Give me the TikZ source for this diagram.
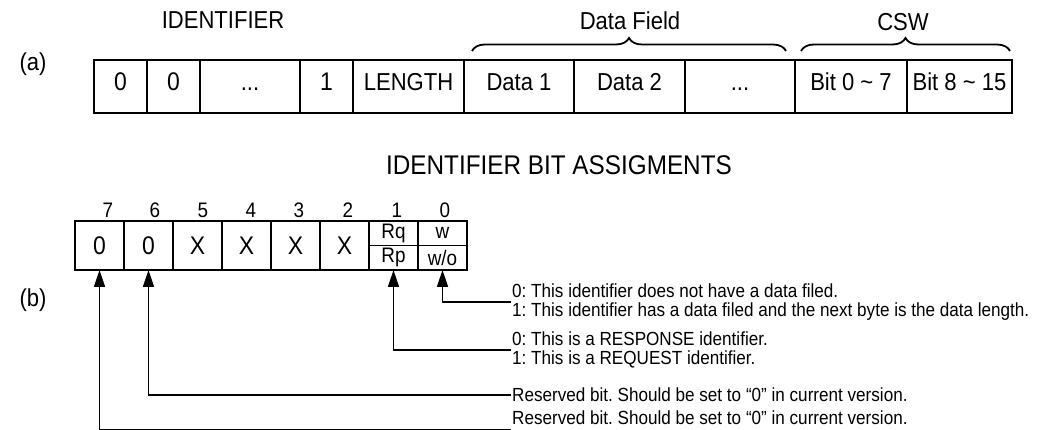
\documentclass[tikz,border=0pt]{standalone}
\usepackage{fontspec}
\setmainfont[FakeStretch=0.9]{Liberation Sans}
\usetikzlibrary{arrows.meta,positioning,decorations.pathreplacing}

% font sizes (1pt = 1 unit of the grid below)
\newcommand\headtxt{\fontsize{24.5}{28}\selectfont}
\newcommand\celltxt{\fontsize{24.5}{28}\selectfont}
\newcommand\digtxt{\fontsize{25.5}{28}\selectfont}
\newcommand\numtxt{\fontsize{21}{24}\selectfont}
\newcommand\halftxt{\fontsize{21}{22}\selectfont}
\newcommand\notetxt{\fontsize{19}{19.5}\selectfont}
\newcommand\tl{\textasciitilde}

\begin{document}
\frenchspacing
\begin{tikzpicture}[
  x=1pt, y=-1pt,
  cell/.style={draw, line width=2.3pt, minimum height=53pt, inner sep=0pt,
               outer sep=0pt, text height=0.72em, text depth=0pt, font=\celltxt},
  bitcell/.style={draw, line width=2.3pt, minimum width=49pt, minimum height=49pt,
                  inner sep=0pt, outer sep=0pt, font=\digtxt},
  half/.style={draw, line width=1.4pt, minimum width=49pt, minimum height=24.5pt,
               inner sep=0pt, outer sep=0pt, font=\halftxt},
  head/.style={font=\headtxt, inner sep=0pt},
  bitnum/.style={font=\numtxt, inner sep=0pt},
  note/.style={font=\notetxt, anchor=west, align=left, inner sep=1pt},
  brc/.style={draw, line width=1.8pt, decorate, decoration={brace, amplitude=13pt}},
  link/.style={draw, line width=1.6pt, -{Triangle[length=17pt, width=11pt]}}
]
\useasboundingbox (0,0) rectangle (1042,430);

%% (a) frame layout
\node[head] (tagA) at (33,64) {(a)};
\node[cell, minimum width=53pt, anchor=north west, font=\digtxt] (id7) at (94,60) {0};
\node[cell, minimum width=53pt, right=0pt of id7, font=\digtxt] (id6) {0};
\node[cell, minimum width=100pt, right=0pt of id6] (idd) {...};
\node[cell, minimum width=53pt, right=0pt of idd, font=\digtxt] (id0) {1};
\node[cell, minimum width=111pt, right=0pt of id0] (len) {LENGTH};
\node[cell, minimum width=110pt, right=0pt of len] (d1) {Data 1};
\node[cell, minimum width=111pt, right=0pt of d1] (d2) {Data 2};
\node[cell, minimum width=110pt, right=0pt of d2] (dd) {...};
\node[cell, minimum width=112pt, right=0pt of dd] (csl) {Bit 0 \tl\ 7};
\node[cell, minimum width=105pt, right=0pt of csl] (csh) {Bit 8 \tl\ 15};

\node[head] (idlbl) at (223,20) {IDENTIFIER};
\draw[brc] ([xshift=8pt, yshift=9pt]d1.north west) -- ([xshift=-9pt, yshift=9pt]dd.north east);
\node[head] (dflbl) at (630,21) {Data Field};
\draw[brc] ([xshift=6pt, yshift=9pt]csl.north west) -- ([xshift=-2pt, yshift=9pt]csh.north east);
\node[head] (cswlbl) at (903,22) {CSW};

%% (b) identifier byte
\node[head, font=\fontsize{27}{30}\selectfont] (bitlbl) at (559,165) {IDENTIFIER BIT ASSIGMENTS};
\node[head] (tagB) at (33,300) {(b)};

\node[bitcell, anchor=north west] (b7) at (75,221) {0};
\node[bitcell, right=0pt of b7] (b6) {0};
\node[bitcell, right=0pt of b6] (b5) {X};
\node[bitcell, right=0pt of b5] (b4) {X};
\node[bitcell, right=0pt of b4] (b3) {X};
\node[bitcell, right=0pt of b3] (b2) {X};
\node[half, anchor=north west] (rq) at (b2.north east) {Rq};
\node[half, below=0pt of rq] (rp) {Rp};
\node[half, right=0pt of rq] (w) {w};
\node[half, right=0pt of rp] (wo) {w/o};
\draw[line width=2.3pt] (b7.north west) rectangle (wo.south east);
\draw[line width=2.3pt] (rq.north east) -- (rp.south east);

\node[bitnum] (n7) at (108,210) {7};
\node[bitnum] (n6) at (155,210) {6};
\node[bitnum] (n5) at (203,210) {5};
\node[bitnum] (n4) at (251,210) {4};
\node[bitnum] (n3) at (299,210) {3};
\node[bitnum] (n2) at (348,210) {2};
\node[bitnum] (n1) at (397,210) {1};
\node[bitnum] (n0) at (445,210) {0};

% descriptions and their leaders
\node[note] (t0) at (511,302) {0: This identifier does not have a data filed.\\
  1: This identifier has a data filed and the next byte is the data length.};
\node[note] (t1) at (511,350) {0: This is a RESPONSE identifier.\\
  1: This is a REQUEST identifier.};
\node[note] (t6) at (511,395) {Reserved bit. Should be set to ``0'' in current version.};
\node[note] (t7) at (511,418) {Reserved bit. Should be set to ``0'' in current version.};
\coordinate (e7) at ([yshift=-4pt]t7.south west);

\draw[link] (t0.west) -| (wo.south);
\draw[link] (t1.west) -| (rp.south);
\draw[link] (t6.west) -| (b6.south);
\draw[link] (e7) -| (b7.south);
\end{tikzpicture}
\end{document}
